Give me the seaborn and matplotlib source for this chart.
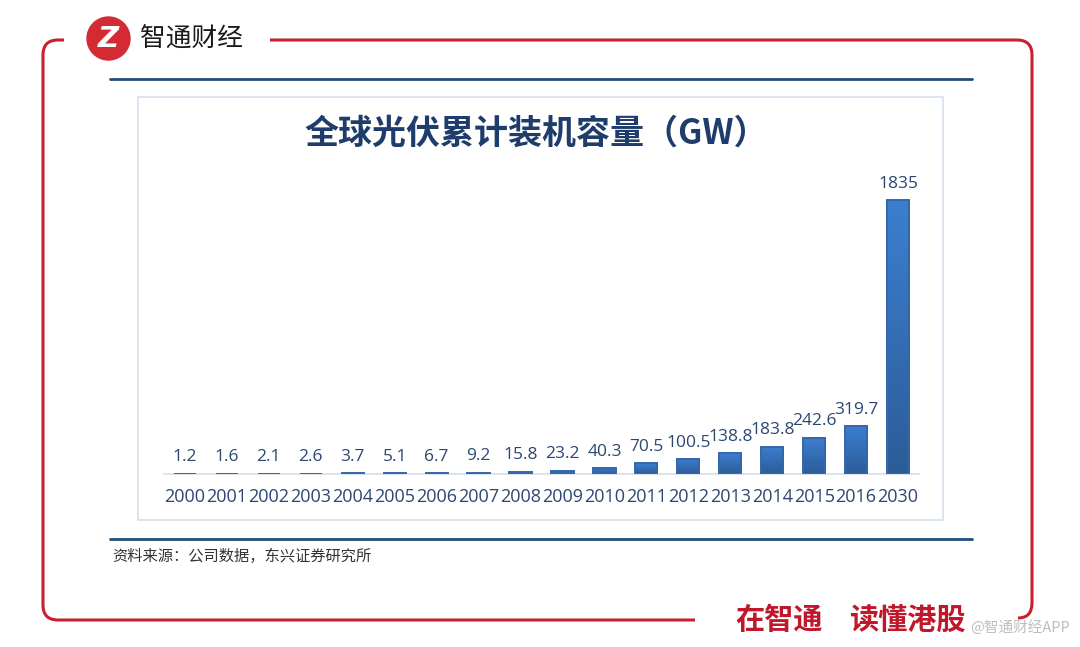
import numpy as np
import matplotlib
matplotlib.use('Agg')
import matplotlib.pyplot as plt
from matplotlib.path import Path
from matplotlib.patches import PathPatch, Rectangle, Circle
import seaborn as sns

# data
years = ['2000', '2001', '2002', '2003', '2004', '2005', '2006', '2007', '2008',
         '2009', '2010', '2011', '2012', '2013', '2014', '2015', '2016', '2030']
capacity = [1.2, 1.6, 2.1, 2.6, 3.7, 5.1, 6.7, 9.2, 15.8,
            23.2, 40.3, 70.5, 100.5, 138.8, 183.8, 242.6, 319.7, 1835]
value_labels = ['1.2', '1.6', '2.1', '2.6', '3.7', '5.1', '6.7', '9.2', '15.8',
                '23.2', '40.3', '70.5', '100.5', '138.8', '183.8', '242.6', '319.7', '1835']

title = '全球光伏累计装机容量（GW）'
source = '资料来源：公司数据，东兴证券研究所'

sns.set_theme(style='white')
plt.rcParams['font.family'] = ['Noto Sans CJK SC', 'DejaVu Sans']

red = '#C8202F'
navy = '#1F4E79'
text_blue = '#2B4770'

fig = plt.figure(figsize=(10.8, 6.47), dpi=100)
fig.patch.set_facecolor('white')

# background layer in pixel coordinates
bg = fig.add_axes([0, 0, 1, 1])
bg.set_xlim(0, 1080)
bg.set_ylim(647, 0)
bg.axis('off')

# red frame (with gaps for logo and slogan)
left_path = Path([(64, 40), (58, 40), (43, 40), (43, 55), (43, 605), (43, 620), (58, 620), (695, 620)],
                 [Path.MOVETO, Path.LINETO, Path.CURVE3, Path.CURVE3, Path.LINETO,
                  Path.CURVE3, Path.CURVE3, Path.LINETO])
right_path = Path([(270, 40), (1017, 40), (1032, 40), (1032, 55), (1032, 603), (1032, 618), (1018, 618)],
                  [Path.MOVETO, Path.LINETO, Path.CURVE3, Path.CURVE3, Path.LINETO,
                   Path.CURVE3, Path.CURVE3])
for p in (left_path, right_path):
    bg.add_patch(PathPatch(p, facecolor='none', edgecolor=red, lw=2.2, capstyle='butt'))

# logo
bg.add_patch(Circle((108.5, 38.5), 21.5, color='#D42A34'))
bg.text(108.5, 39, 'Z', color='white', fontsize=21, fontweight='bold', style='italic',
        ha='center', va='center', family='DejaVu Sans')
bg.text(140, 39, '智通财经', fontsize=18.5, color='#1A1A1A', ha='left', va='center')

# navy rules
bg.plot([110, 972], [79, 79], color=navy, lw=2)
bg.plot([110, 972], [539, 539], color=navy, lw=2)

# inner chart box
bg.add_patch(Rectangle((138, 97), 805, 423, facecolor='none', edgecolor='#D5E0EC', lw=1.2))

bg.text(536, 133, title, fontsize=24.5, fontweight='bold', color='#1F3D6B',
        ha='center', va='center')

bg.text(112, 556, source, fontsize=11, color='#333333', ha='left', va='center')

# slogan and watermark
bg.text(735, 620, '在智通', fontsize=21, fontweight='heavy', color='#C0182B', ha='left', va='center')
bg.text(849, 620, '读懂港股', fontsize=21, fontweight='heavy', color='#C0182B', ha='left', va='center')
bg.text(1070, 627, '@智通财经APP', fontsize=10.5, color='#BDBDBD', ha='right', va='center')

# bar chart
ax = fig.add_axes([164 / 1080, 1 - 474 / 647, 755 / 1080, 298.6 / 647])
ax.patch.set_alpha(0)
sns.barplot(x=years, y=capacity, color='#3573BD', width=0.53, ax=ax)

# vertical gradient on each bar
grad = np.linspace(0, 1, 256).reshape(-1, 1)
cmap = matplotlib.colors.LinearSegmentedColormap.from_list('b', ['#2C5C98', '#3C7FD0'])
for patch in ax.patches:
    x0, y0 = patch.get_x(), patch.get_y()
    w, h = patch.get_width(), patch.get_height()
    im = ax.imshow(grad, extent=[x0, x0 + w, y0, y0 + h], origin='lower', cmap=cmap,
                   aspect='auto', zorder=2)
    im.set_clip_path(patch)
    patch.set_facecolor('none')
    patch.set_edgecolor('#3467AA')
    patch.set_linewidth(1.4)
    patch.set_zorder(3)
ax.set_xlim(-0.5, len(years) - 0.5)
ax.set_ylim(0, 2000)

for i, (v, lab) in enumerate(zip(capacity, value_labels)):
    ax.annotate(lab, (i, v), xytext=(0, 6), textcoords='offset points',
                ha='center', va='bottom', fontsize=12.5, color=text_blue,
                family='Open Sans')

sns.despine(ax=ax, left=True)
ax.spines['bottom'].set_color('#D6DEE8')
ax.spines['bottom'].set_linewidth(1.2)
ax.set_yticks([])
ax.tick_params(axis='x', length=0, pad=10)
for t in ax.get_xticklabels():
    t.set_fontsize(13)
    t.set_color(text_blue)
    t.set_family('Open Sans')
ax.set_xlabel('')
ax.set_ylabel('')

fig.savefig('out.png', dpi=100)
